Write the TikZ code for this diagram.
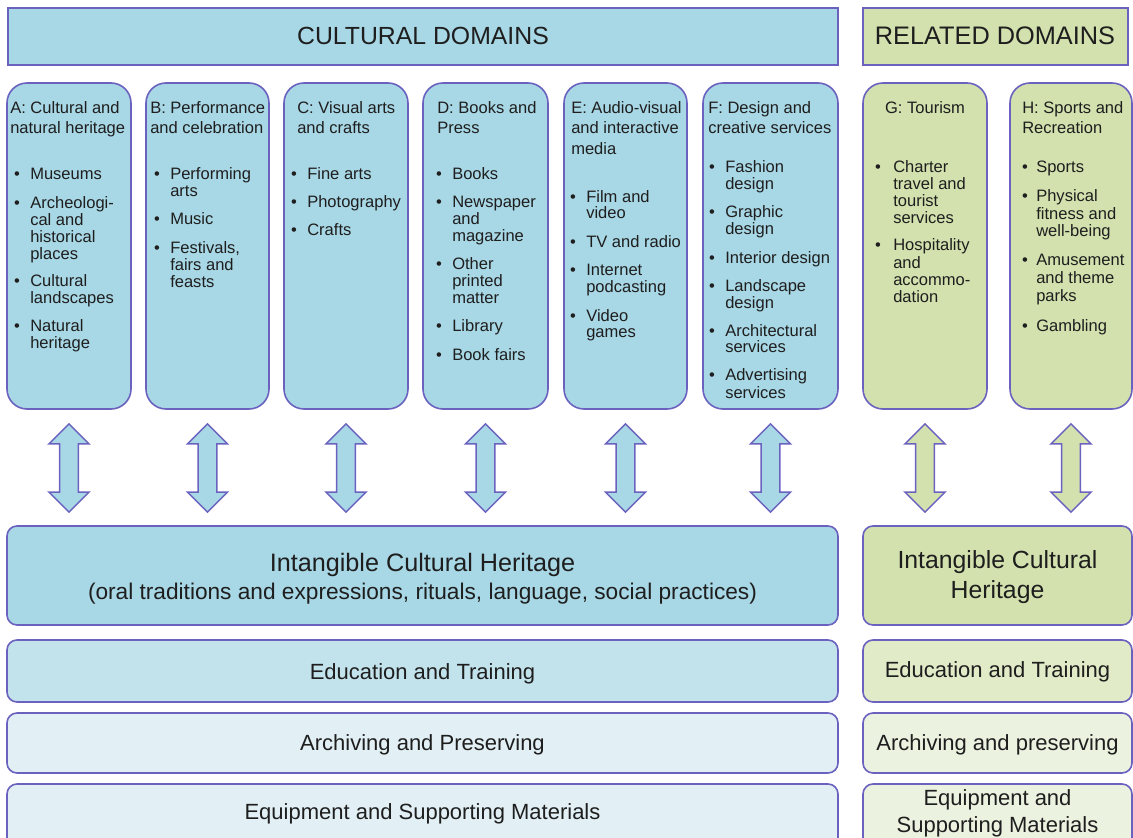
\documentclass[tikz,border=0pt]{standalone}
\usepackage{fontspec}
\setmainfont{Liberation Sans}
\usetikzlibrary{calc,fit}
\definecolor{bord}{HTML}{6B62C0}
\definecolor{blueA}{HTML}{A8D7E5}
\definecolor{blueB}{HTML}{C3E3EC}
\definecolor{blueC}{HTML}{E2F0F5}
\definecolor{greenA}{HTML}{D2E1AE}
\definecolor{greenB}{HTML}{E1EBC8}
\definecolor{greenC}{HTML}{ECF2E0}
\definecolor{ink}{HTML}{1E1E1E}
\newcounter{tn}
\newcommand\tl[3]{\stepcounter{tn}\node[itm,anchor=base west] (t\arabic{tn}) at (#1,#2+6) {#3};}
\newcommand\bl[4]{\stepcounter{tn}\node[itm,anchor=base] (t\arabic{tn}) at (#1,#3+6) {•};\tl{#2}{#3}{#4}}
\newcommand\ctr[4]{\stepcounter{tn}\node[txt,anchor=base,font=\fontsize{#4}{#4}\selectfont] (t\arabic{tn}) at (#1,#2) {#3};}
\newcommand\dbl[3]{%
  \draw[arrowshape,fill=#3] let \p1=($(#1.south)+(0,14)$), \p2=($(#1.south|-#2.north)+(0,-13)$) in
   (\x1,\y1) -- (\x1+15pt,\y1-15pt) -- (\x1+7.1pt,\y1-15pt) -- (\x1+7.1pt,\y2+15pt) -- (\x1+15pt,\y2+15pt)
   -- (\x2,\y2) -- (\x1-15pt,\y2+15pt) -- (\x1-7.1pt,\y2+15pt) -- (\x1-7.1pt,\y1-15pt) -- (\x1-15pt,\y1-15pt) -- cycle;}
\begin{document}
\begin{tikzpicture}[x=0.75pt,y=-0.75pt,
  txt/.style={inner sep=0pt,text=ink},
  itm/.style={txt,font=\fontsize{12.4pt}{12.4pt}\selectfont},
  banner/.style={draw=bord,line width=1.2pt,inner sep=0pt},
  colbox/.style={draw=bord,line width=1.2pt,inner sep=0pt,rounded corners=15pt},
  rowbox/.style={draw=bord,line width=1.2pt,inner sep=0pt,rounded corners=7.5pt},
  arrowshape/.style={draw=bord,line width=1.1pt,line join=miter}]
\useasboundingbox (0,0) rectangle (1133,838);
\fill[white] (0,0) rectangle (1133,838);
\clip (0,0) rectangle (1133,838);

% banners
\node[banner,fill=blueA,fit={(8,8)(838,65)}] (cd) {};
\node[banner,fill=greenA,fit={(863,8)(1128,65)}] (rd) {};
\ctr{423}{36+8.5}{CULTURAL DOMAINS}{18.6pt}
\ctr{995}{36+8.5}{RELATED DOMAINS}{19pt}

% columns
\node[colbox,fill=blueA,fit={(7,83)(131,409)}] (A) {};
\node[colbox,fill=blueA,fit={(146,83)(269,409)}] (B) {};
\node[colbox,fill=blueA,fit={(284,83)(408,409)}] (C) {};
\node[colbox,fill=blueA,fit={(423,83)(548,409)}] (D) {};
\node[colbox,fill=blueA,fit={(564,83)(687,409)}] (E) {};
\node[colbox,fill=blueA,fit={(703,83)(838,409)}] (F) {};
\node[colbox,fill=greenA,fit={(863,83)(987,409)}] (G) {};
\node[colbox,fill=greenA,fit={(1010,83)(1132,409)}] (H) {};

% bottom rows
\node[rowbox,fill=blueA,fit={(7,526)(838,625)}] (ichC) {};
\node[rowbox,fill=greenA,fit={(863,526)(1132,625)}] (ichR) {};
\node[rowbox,fill=blueB,fit={(7,640)(838,702)}] (eduC) {};
\node[rowbox,fill=greenB,fit={(863,640)(1132,702)}] (eduR) {};
\node[rowbox,fill=blueC,fit={(7,713)(838,773)}] (arcC) {};
\node[rowbox,fill=greenC,fit={(863,713)(1132,773)}] (arcR) {};
\node[rowbox,fill=blueC,fit={(7,784)(838,860)}] (eqC) {};
\node[rowbox,fill=greenC,fit={(863,784)(1132,860)}] (eqR) {};

% arrows
\dbl{A}{ichC}{blueA}
\dbl{B}{ichC}{blueA}
\dbl{C}{ichC}{blueA}
\dbl{D}{ichC}{blueA}
\dbl{E}{ichC}{blueA}
\dbl{F}{ichC}{blueA}
\dbl{G}{ichR}{greenA}
\dbl{H}{ichR}{greenA}

% column A
\tl{10}{108}{A: Cultural and}
\tl{10}{128}{natural heritage}
\bl{17}{30}{174}{Museums}
\bl{17}{30}{203}{Archeologi-}
\tl{30}{220}{cal and}
\tl{30}{237}{historical}
\tl{30}{254}{places}
\bl{17}{30}{281}{Cultural}
\tl{30}{298}{landscapes}
\bl{17}{30}{326}{Natural}
\tl{30}{343}{heritage}

% column B
\tl{150}{108}{B: Performance}
\tl{150}{128}{and celebration}
\bl{157}{170}{174}{Performing}
\tl{170}{191}{arts}
\bl{157}{170}{219}{Music}
\bl{157}{170}{248}{Festivals,}
\tl{170}{265}{fairs and}
\tl{170}{282}{feasts}

% column C
\tl{297}{108}{C: Visual arts}
\tl{297}{128}{and crafts}
\bl{294}{307}{174}{Fine arts}
\bl{294}{307}{202}{Photography}
\bl{294}{307}{230}{Crafts}

% column D
\tl{437}{108}{D: Books and}
\tl{437}{128}{Press}
\bl{439}{452}{174}{Books}
\bl{439}{452}{202}{Newspaper}
\tl{452}{219}{and}
\tl{452}{236}{magazine}
\bl{439}{452}{264}{Other}
\tl{452}{281}{printed}
\tl{452}{298}{matter}
\bl{439}{452}{326}{Library}
\bl{439}{452}{354}{Book fairs}

% column E
\tl{571}{108}{E: Audio-visual}
\tl{571}{128}{and interactive}
\tl{571}{149}{media}
\bl{573}{586}{197}{Film and}
\tl{586}{213}{video}
\bl{573}{586}{242}{TV and radio}
\bl{573}{586}{270}{Internet}
\tl{586}{287}{podcasting}
\bl{573}{586}{315}{Video}
\tl{586}{332}{games}

% column F
\tl{708}{108}{F: Design and}
\tl{708}{128}{creative services}
\bl{712}{725}{167}{Fashion}
\tl{725}{184}{design}
\bl{712}{725}{212}{Graphic}
\tl{725}{229}{design}
\bl{712}{725}{258}{Interior design}
\bl{712}{725}{286}{Landscape}
\tl{725}{303}{design}
\bl{712}{725}{330}{Architectural}
\tl{725}{347}{services}
\bl{712}{725}{375}{Advertising}
\tl{725}{392}{services}

% column G
\stepcounter{tn}\node[itm,anchor=base] (t\arabic{tn}) at (925,108+6) {G: Tourism};
\bl{878}{893}{167}{Charter}
\tl{893}{184}{travel and}
\tl{893}{201}{tourist}
\tl{893}{218}{services}
\bl{878}{893}{245}{Hospitality}
\tl{893}{263}{and}
\tl{893}{280}{accommo-}
\tl{893}{297}{dation}

% column H
\tl{1022}{108}{H: Sports and}
\tl{1022}{128}{Recreation}
\bl{1025}{1036}{167}{Sports}
\bl{1025}{1036}{196}{Physical}
\tl{1036}{214}{fitness and}
\tl{1036}{231}{well-being}
\bl{1025}{1036}{260}{Amusement}
\tl{1036}{278}{and theme}
\tl{1036}{296}{parks}
\bl{1025}{1036}{325}{Gambling}

% bottom texts
\ctr{422.5}{563+8.5}{Intangible Cultural Heritage}{18.9pt}
\ctr{422.5}{592+7.5}{(oral traditions and expressions, rituals, language, social practices)}{17pt}
\ctr{997.5}{560+8.5}{Intangible Cultural}{18.6pt}
\ctr{997.5}{590+8.5}{Heritage}{18.6pt}
\ctr{422.5}{672+7.5}{Education and Training}{16.5pt}
\ctr{997.5}{670+7.5}{Education and Training}{16.5pt}
\ctr{422.5}{743+7.5}{Archiving and Preserving}{16.5pt}
\ctr{997.5}{743+7.5}{Archiving and preserving}{16.5pt}
\ctr{422.5}{812+7.5}{Equipment and Supporting Materials}{16.5pt}
\ctr{997.5}{798+7.5}{Equipment and}{16.5pt}
\ctr{997.5}{825+7.5}{Supporting Materials}{16.5pt}
\end{tikzpicture}
\end{document}
